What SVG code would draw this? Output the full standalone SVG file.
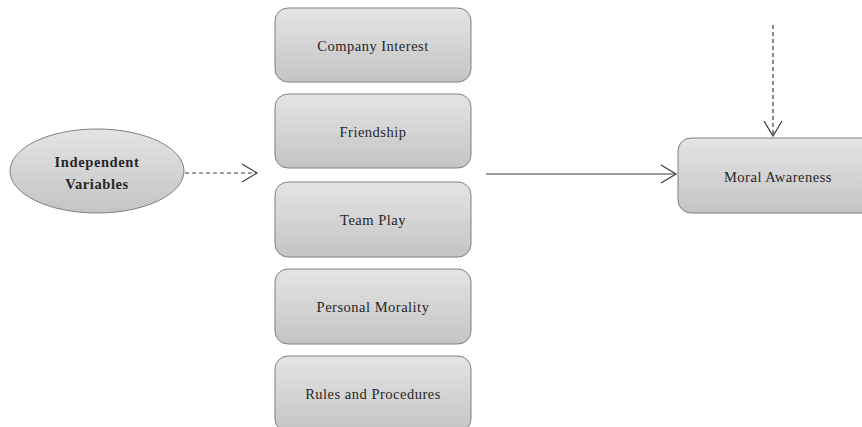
<svg xmlns="http://www.w3.org/2000/svg" width="862" height="427" viewBox="0 0 862 427">
<defs>
<linearGradient id="g" x1="0" y1="0" x2="0" y2="1">
<stop offset="0" stop-color="#e4e4e4"/>
<stop offset="1" stop-color="#c4c4c4"/>
</linearGradient>
<style>
.box{fill:url(#g);stroke:#808080;stroke-width:1}
.t{font-family:"Liberation Serif","Times New Roman",serif;font-size:14.5px;letter-spacing:0.5px;fill:#262626;text-anchor:middle;dominant-baseline:central}
.tb{font-weight:bold;letter-spacing:0.6px}
.ln{fill:none;stroke:#3a3a3a;stroke-width:1.2}
.dash{stroke-dasharray:4 3}
</style>
</defs>
<rect width="862" height="427" fill="#ffffff"/>
<g id="connectors">
<path class="ln dash" d="M185,173 H256"/>
<path class="ln" d="M242,164 L257,173 L242,182"/>
<path class="ln" d="M486,174 H675"/>
<path class="ln" d="M661,165 L676,174 L661,183"/>
<path class="ln dash" d="M773,25 V134"/>
<path class="ln" d="M764,121 L773,136 L782,121"/>
</g>
<g id="independent">
<ellipse class="box" cx="97" cy="171" rx="87" ry="42"/>
<text class="t tb" x="97" y="162">Independent</text>
<text class="t tb" x="97" y="184">Variables</text>
</g>
<g id="company">
<rect class="box" x="275" y="8" width="196" height="74" rx="13"/>
<text class="t" x="373" y="46">Company Interest</text>
</g>
<g id="friendship">
<rect class="box" x="275" y="94" width="196" height="74" rx="13"/>
<text class="t" x="373" y="132">Friendship</text>
</g>
<g id="teamplay">
<rect class="box" x="275" y="182" width="196" height="75" rx="13"/>
<text class="t" x="373" y="220">Team Play</text>
</g>
<g id="personal">
<rect class="box" x="275" y="269" width="196" height="75" rx="13"/>
<text class="t" x="373" y="307">Personal Morality</text>
</g>
<g id="rules">
<rect class="box" x="275" y="356" width="196" height="76" rx="13"/>
<text class="t" x="373" y="394">Rules and Procedures</text>
</g>
<g id="moral">
<rect class="box" x="678" y="138" width="200" height="75" rx="13"/>
<text class="t" x="778" y="177">Moral Awareness</text>
</g>
</svg>
